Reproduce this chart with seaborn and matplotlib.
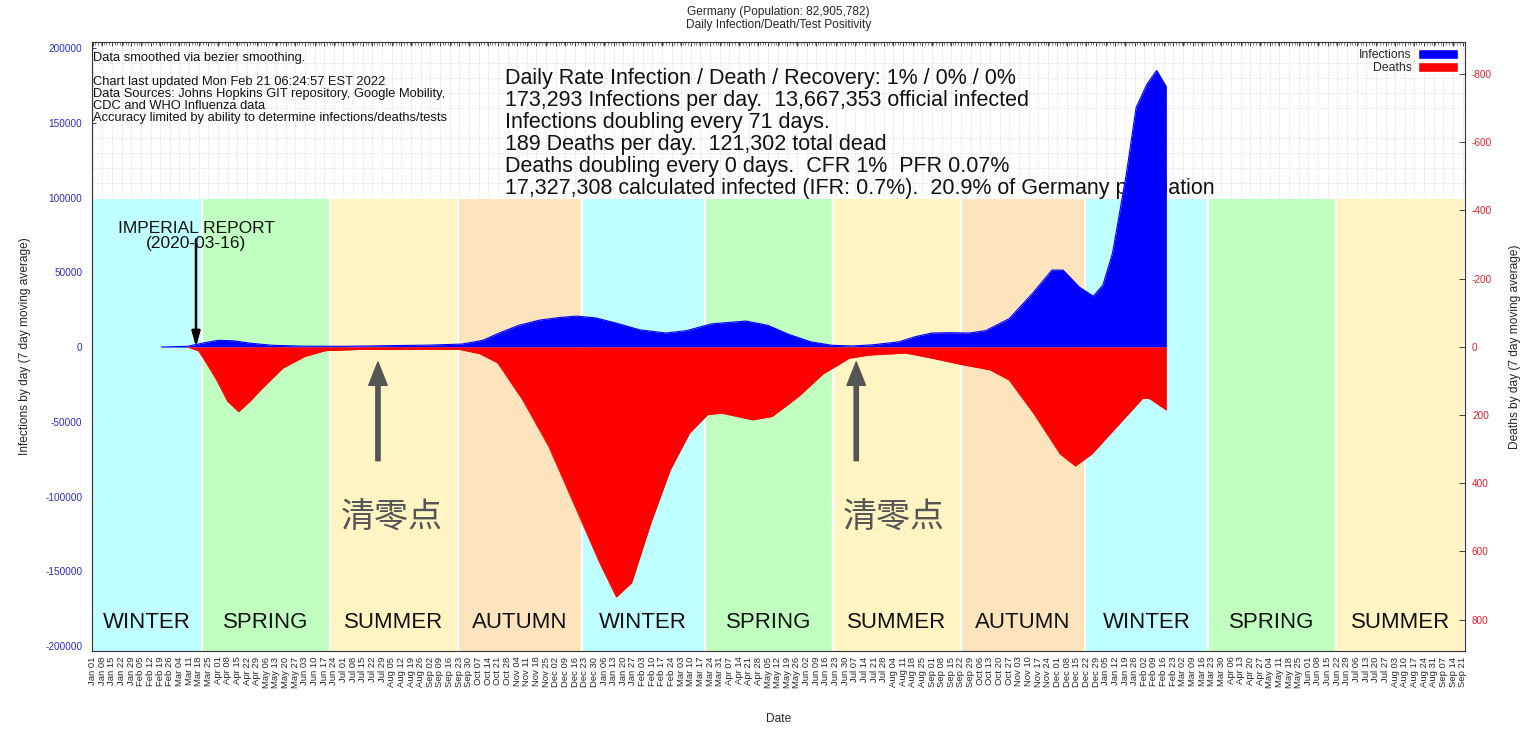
import pandas as pd
import numpy as np
import matplotlib
matplotlib.use('Agg')
import matplotlib.pyplot as plt
import matplotlib.dates as mdates
from matplotlib.patches import Patch
import seaborn as sns

# --- data ---
inf_dates = ['2020-02-20', '2020-03-10', '2020-03-20', '2020-04-01', '2020-04-12',
             '2020-04-25', '2020-05-10', '2020-06-01', '2020-07-01', '2020-08-01',
             '2020-09-01', '2020-09-25', '2020-10-10', '2020-10-22', '2020-11-05',
             '2020-11-20', '2020-12-05', '2020-12-17', '2020-12-31', '2021-01-15',
             '2021-02-01', '2021-02-20', '2021-03-07', '2021-03-25', '2021-04-19',
             '2021-05-05', '2021-05-20', '2021-06-05', '2021-06-20', '2021-07-05',
             '2021-07-20', '2021-08-08', '2021-08-20', '2021-09-01', '2021-09-14',
             '2021-09-28', '2021-10-10', '2021-10-27', '2021-11-13', '2021-11-27',
             '2021-12-05', '2021-12-17', '2021-12-27', '2022-01-03', '2022-01-10',
             '2022-01-20', '2022-01-27', '2022-02-04', '2022-02-11', '2022-02-18']
infections = [0, 500, 2500, 4500, 4200,
              2500, 1200, 600, 500, 900,
              1300, 2000, 4500, 9400, 14500,
              18000, 19800, 20700, 19500, 16000,
              11500, 9400, 11000, 15500, 17400,
              14500, 8500, 3500, 1200, 700,
              1500, 3500, 7000, 9400, 9600,
              9400, 11000, 19000, 36000, 51500,
              51500, 40000, 34000, 41500, 63000,
              116000, 160000, 176000, 185000, 174000]

death_dates = ['2020-03-10', '2020-03-18', '2020-03-24', '2020-03-31', '2020-04-08',
               '2020-04-16', '2020-04-24', '2020-05-02', '2020-05-18', '2020-06-03',
               '2020-06-18', '2020-07-15', '2020-09-23', '2020-10-08', '2020-10-21',
               '2020-11-08', '2020-11-27', '2020-12-15', '2021-01-03', '2021-01-15',
               '2021-01-26', '2021-02-09', '2021-02-23', '2021-03-09', '2021-03-22',
               '2021-04-01', '2021-04-24', '2021-05-08', '2021-05-27', '2021-06-14',
               '2021-07-03', '2021-07-17', '2021-08-13', '2021-09-01', '2021-09-24',
               '2021-10-13', '2021-10-27', '2021-11-14', '2021-12-03', '2021-12-14',
               '2021-12-26', '2022-01-13', '2022-02-01', '2022-02-06', '2022-02-18']
deaths = [0, 12, 50, 97, 160,
          190, 160, 126, 62, 28,
          11, 7, 7, 20, 47,
          155, 292, 458, 634, 733,
          692, 516, 361, 253, 199,
          194, 214, 204, 146, 79,
          33, 24, 18, 33, 53,
          67, 97, 196, 314, 349,
          314, 234, 150, 152, 185]

season_starts = ['2019-12-31', '2020-03-20', '2020-06-21', '2020-09-22', '2020-12-21',
                 '2021-03-20', '2021-06-21', '2021-09-22', '2021-12-21', '2022-03-20',
                 '2022-06-21']
season_ends = season_starts[1:] + ['2022-09-23']
season_names = ['WINTER', 'SPRING', 'SUMMER', 'AUTUMN', 'WINTER', 'SPRING',
                'SUMMER', 'AUTUMN', 'WINTER', 'SPRING', 'SUMMER']
season_colors = {'WINTER': '#c0ffff', 'SPRING': '#c0ffc0',
                 'SUMMER': '#fff4c2', 'AUTUMN': '#fde4bd'}

zero_points = ['2020-07-26', '2021-07-08']
zero_label_dates = ['2020-08-05', '2021-08-04']

info_small = ("Data smoothed via bezier smoothing.\n\n"
              "Chart last updated Mon Feb 21 06:24:57 EST 2022\n"
              "Data Sources: Johns Hopkins GIT repository, Google Mobility,\n"
              "CDC and WHO Influenza data\n"
              "Accuracy limited by ability to determine infections/deaths/tests")
info_big = ("Daily Rate Infection / Death / Recovery: 1% / 0% / 0%\n"
            "173,293 Infections per day.  13,667,353 official infected\n"
            "Infections doubling every 71 days.\n"
            "189 Deaths per day.  121,302 total dead\n"
            "Deaths doubling every 0 days.  CFR 1%  PFR 0.07%\n"
            "17,327,308 calculated infected (IFR: 0.7%).  20.9% of Germany population")

df_inf = pd.DataFrame({'date': pd.to_datetime(inf_dates), 'value': infections})
df_dth = pd.DataFrame({'date': pd.to_datetime(death_dates), 'value': deaths})


def dnum(s):
    return mdates.date2num(pd.Timestamp(s))


# --- style ---
sns.set_theme(style='white')
plt.rcParams['font.family'] = ['Liberation Sans', 'Noto Sans CJK SC', 'DejaVu Sans']

fig = plt.figure(figsize=(15.35, 7.31), dpi=100)
ax = fig.add_axes([0.0599, 0.1094, 0.8945, 0.8331])
ax2 = ax.twinx()

x0, x1 = pd.Timestamp('2019-12-31 12:00'), pd.Timestamp('2022-09-22 16:00')
ax.set_xlim(x0, x1)
ax.set_ylim(-203300, 204000)
ax2.set_ylim(892, -894)

# season bands
for s, e, name in zip(season_starts, season_ends, season_names):
    ax.fill_between(pd.to_datetime([s, e]), -250000, 100000, color=season_colors[name],
                    edgecolor='white', linewidth=1.5, zorder=1)
    start = max(pd.Timestamp(s), x0)
    mid = start + (pd.Timestamp(e) - start) / 2
    ax.text(mid, -184000, name, ha='center', va='center', fontsize=16,
            color='#111111', zorder=3)

# text blocks (under the curves)
ax.text(0.001, 0.983, info_small, transform=ax.transAxes, ha='left', va='top',
        fontsize=9.3, linespacing=1.0, color='#111111', zorder=2)
ax.text(0.3005, 0.958, info_big, transform=ax.transAxes, ha='left', va='top',
        fontsize=15.5, linespacing=1.07, color='#111111', zorder=2)

# infections above zero (left axis)
ax.fill_between(df_inf['date'], 0, df_inf['value'], color='#0000ff', linewidth=0, zorder=4)
sns.lineplot(data=df_inf, x='date', y='value', ax=ax, color='#0000ff', linewidth=0.8, zorder=4)

# deaths below zero (right axis, inverted)
ax2.fill_between(df_dth['date'], 0, df_dth['value'], color='#ff0000', linewidth=0, zorder=4)
sns.lineplot(data=df_dth, x='date', y='value', ax=ax2, color='#ff0000', linewidth=0.8, zorder=4)

# ticks
week_ticks = pd.date_range('2020-01-01', '2022-09-21', freq='7D')
ax.set_xticks(week_ticks)
ax.set_xticklabels([d.strftime('%b %d') for d in week_ticks], rotation=90, fontsize=6.8)
ax.set_yticks(np.arange(-200000, 200001, 50000))
ax.set_yticklabels([str(v) for v in np.arange(-200000, 200001, 50000)], fontsize=7.2,
                   color='#2a2ad0')
ax2.set_yticks(np.arange(-800, 801, 200))
ax2.set_yticklabels([str(v) for v in np.arange(-800, 801, 200)], fontsize=7.2,
                    color='#e8202a')
ax.tick_params(axis='both', direction='in', length=3, width=0.6, pad=4, top=True)
ax.tick_params(axis='y', pad=7)
ax2.tick_params(axis='y', direction='in', length=4, width=0.6, pad=5)
ax.xaxis.set_minor_locator(mdates.DayLocator(interval=2))
ax.tick_params(axis='x', which='minor', direction='in', length=2, width=0.4,
               top=True, bottom=False)

# dotted grid, hidden behind the season bands
ax.set_axisbelow(True)
ax.yaxis.set_minor_locator(plt.MultipleLocator(10000))
ax.tick_params(axis='y', which='minor', length=0)
ax.grid(True, which='major', axis='x', color='#d0d0d0', linestyle=':', linewidth=0.6, zorder=0)
ax.grid(True, which='minor', axis='y', color='#d8d8d8', linestyle=':', linewidth=0.6, zorder=0)

for sp in ax.spines.values():
    sp.set_color('#333333')
    sp.set_linewidth(0.8)
for sp in ax2.spines.values():
    sp.set_visible(False)

ax.set_xlabel('Date', fontsize=8.6, labelpad=18)
ax.set_ylabel('Infections by day (7 day moving average)', fontsize=8.6, labelpad=10)
ax2.set_ylabel('Deaths by day (7 day moving average)', fontsize=8.6, labelpad=12)
ax.set_title('Germany (Population: 82,905,782)\nDaily Infection/Death/Test Positivity',
             fontsize=8.6, linespacing=1.15, pad=10)

# annotations
ax2.text(dnum('2020-03-16'), 64000, 'IMPERIAL REPORT\n(2020-03-16)', transform=ax.transData,
         ha='center', va='bottom', fontsize=12.5, linespacing=1.0, color='#111111', zorder=5)
ax2.annotate('', xy=(dnum('2020-03-16'), 0), xycoords=ax.transData,
             xytext=(dnum('2020-03-16'), 72000), textcoords=ax.transData,
             arrowprops=dict(arrowstyle='-|>,head_width=0.25,head_length=0.9', color='black',
                             lw=1.8, shrinkA=0, shrinkB=0, mutation_scale=10))
for d_arrow, d_text in zip(zero_points, zero_label_dates):
    ax2.annotate('', xy=(dnum(d_arrow), -10000), xycoords=ax.transData,
                 xytext=(dnum(d_arrow), -76000), textcoords=ax.transData,
                 arrowprops=dict(arrowstyle='simple,head_width=0.95,head_length=1.2,tail_width=0.22',
                                 color='#555555', shrinkA=0, shrinkB=0, mutation_scale=14))
    ax2.text(dnum(d_text), -114000, '清零点', transform=ax.transData,
             ha='center', va='center', fontsize=24.5, color='#555555',
             family=['Noto Sans CJK SC', 'DejaVu Sans'])

# legend
handles = [Patch(facecolor='#0000ff', label='Infections'),
           Patch(facecolor='#ff0000', label='Deaths')]
ax2.legend(handles=handles, loc='upper right', frameon=False, fontsize=8.8,
           markerfirst=False, handlelength=3.3, handleheight=0.9, labelspacing=0.05,
           borderaxespad=0.15, handletextpad=0.5)

fig.savefig('out.png', dpi=100)
